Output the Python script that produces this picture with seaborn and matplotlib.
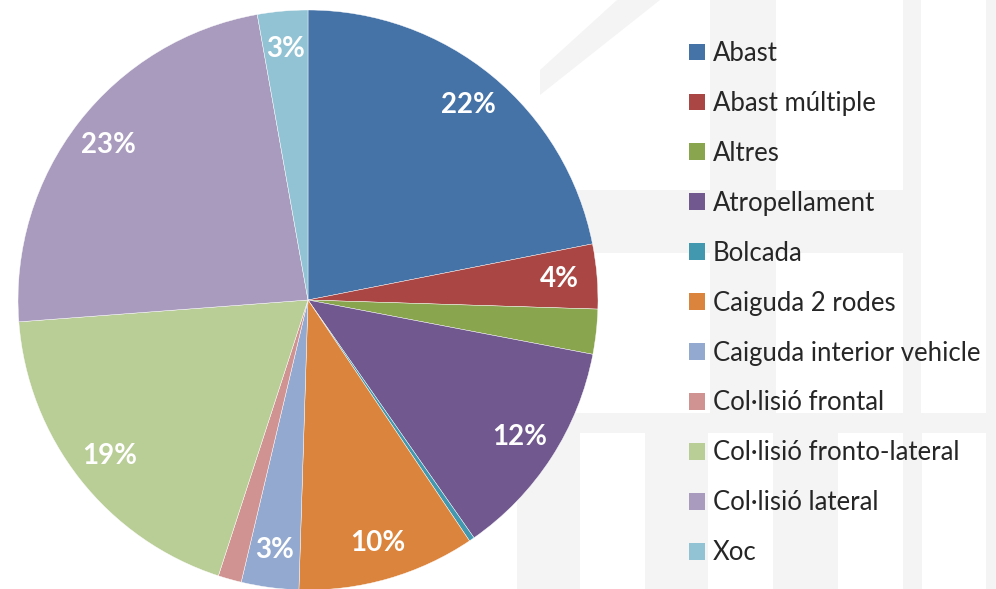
import matplotlib
matplotlib.use("Agg")
import matplotlib.pyplot as plt
import matplotlib.patches as mpatches
import seaborn as sns

# data (share of accidents, %)
categories = ['Abast', 'Abast múltiple', 'Altres', 'Atropellament', 'Bolcada',
              'Caiguda 2 rodes', 'Caiguda interior vehicle', 'Col·lisió frontal',
              'Col·lisió fronto-lateral', 'Col·lisió lateral', 'Xoc']
shares = [21.9, 3.6, 2.5, 12.3, 0.3, 9.9, 3.2, 1.3, 18.8, 23.4, 2.8]
colors = ['#4572A7', '#AA4643', '#89A54E', '#71588F', '#4198AF', '#DB843D',
          '#93A9CF', '#D19392', '#B9CD96', '#A99BBD', '#92C3D4']

sns.set_theme(style='white')
plt.rcParams['font.family'] = ['Lato', 'DejaVu Sans']

W, H = 996, 589
fig = plt.figure(figsize=(W / 100, H / 100), dpi=100)
fig.patch.set_facecolor('white')

# faint watermark behind the chart
bg = fig.add_axes([0, 0, 1, 1])
bg.set_xlim(0, W)
bg.set_ylim(H, 0)
bg.axis('off')
wm = '#f4f4f4'
for x0, y0, w, h in [(710, 0, 66, 413), (903, 0, 18, 413), (986, 0, 10, 589),
                     (560, 190, 343, 63), (500, 413, 496, 20),
                     (517, 432, 63, 157), (645, 432, 63, 157), (773, 432, 65, 157),
                     (903, 432, 19, 157)]:
    bg.add_patch(mpatches.Rectangle((x0, y0), w, h, color=wm, lw=0))
bg.add_patch(mpatches.Polygon([(540, 70), (617, 0), (660, 0), (540, 95)], color=wm, lw=0))

# pie: centre at (308, 300) px, radius 290 px
ax = fig.add_axes([0, 0, 1, 1])
ax.set_facecolor('none')
R = 290.0
cx, cy = 308.0, 300.0


def fmt(pct):
    return f'{pct:.0f}%' if pct >= 2.7 else ''


wedges, texts, autotexts = ax.pie(
    shares, colors=colors, startangle=90, counterclock=False,
    autopct=fmt, pctdistance=0.87,
    wedgeprops=dict(edgecolor='white', linewidth=0.3),
    textprops=dict(color='white', fontsize=20, fontweight='bold'))
ax.set_xlim(-cx / R, (W - cx) / R)
ax.set_ylim(-(H - cy) / R, cy / R)
ax.set_aspect('auto')
ax.axis('off')

handles = [mpatches.Patch(facecolor=c, edgecolor='none') for c in colors]
fig.legend(handles, categories, loc='upper left',
           bbox_to_anchor=(689 / W, 1 - 41 / H), frameon=False,
           fontsize=18.5, handlelength=0.62, handleheight=0.62,
           handletextpad=0.31, labelspacing=0.97, borderpad=0, borderaxespad=0)

fig.savefig('out.png', dpi=100)
